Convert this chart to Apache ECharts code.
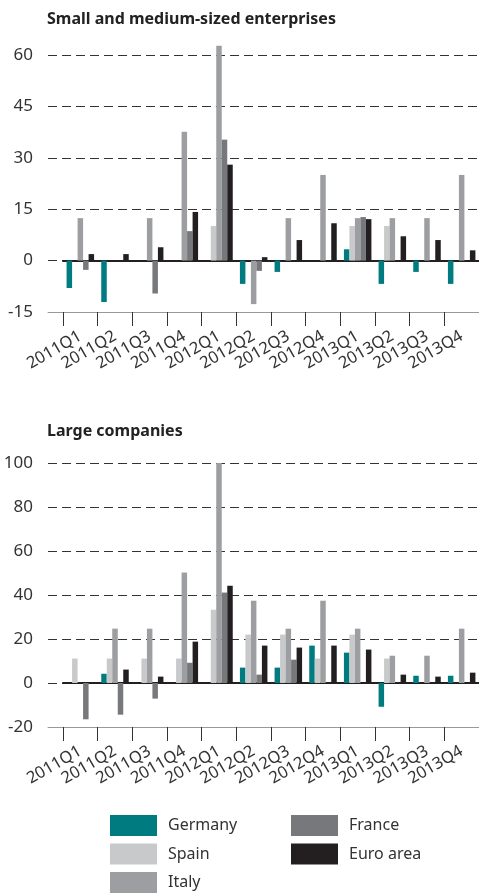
<!DOCTYPE html>
<html>
<head>
<meta charset="utf-8">
<script src="https://cdn.jsdelivr.net/npm/echarts@6/dist/echarts.min.js"></script>
<style>
html,body{margin:0;padding:0;background:#fff;}
#main{width:479px;height:894px;}
</style>
</head>
<body>
<div id="main"></div>
<script>
const quarters=['2011Q1','2011Q2','2011Q3','2011Q4','2012Q1','2012Q2','2012Q3','2012Q4','2013Q1','2013Q2','2013Q3','2013Q4'];

//small and medium-sized enterprises
const smeGermany=[-8, -12.1, 0, 0, 0, -6.8, -3.3, 0, 3.3, -6.8, -3.3, -6.8];
const smeSpain=[0, 0, 0, 0, 10.1, 0, 0, 0, 10.1, 10.1, 0, 0];
const smeItaly=[12.4, 0, 12.4, 37.6, 62.7, -12.7, 12.4, 25, 12.4, 12.4, 12.4, 25];
const smeFrance=[-2.7, 0, -9.6, 8.6, 35.3, -3, 0, 0, 12.7, 0, 0, 0];
const smeEuro=[1.9, 1.9, 3.9, 14.2, 28, 1, 6, 10.9, 12.1, 7.1, 6, 3];

//large companies
const lgGermany=[0, 4.2, 0, 0, 0, 7, 7, 17, 13.8, -10.8, 3.3, 3.3];
const lgSpain=[11.1, 11.1, 11.1, 11.1, 33.3, 22, 22, 11.1, 22, 11.1, 0, 0];
const lgItaly=[0, 24.7, 24.7, 50.2, 100, 37.4, 24.7, 37.4, 24.7, 12.4, 12.4, 24.7];
const lgFrance=[-16.5, -14.4, -7.1, 9.2, 41.1, 3.8, 10.6, 0, 0, 0, 0, 0];
const lgEuro=[0, 6.1, 2.9, 18.8, 44.2, 17, 16.1, 17, 15.2, 3.8, 2.9, 4.7];

const smeTicks={min:-15, max:60, interval:15};
const lgTicks={min:-20, max:100, interval:20};

const names=['Germany','Spain','Italy','France','Euro area'];
const colors=['#007b80','#c8c9cb','#9d9ea1','#77787b','#231f20'];

const fontFam="'Noto Sans', sans-serif";
const txtColor='#333';

const chart=echarts.init(document.getElementById('main'));

// two grids per panel: outer one carries y labels + dashed lines, inner one the bars
const panels=[
    {top:55, bottom:582, ticks:smeTicks, data:[smeGermany,smeSpain,smeItaly,smeFrance,smeEuro]},
    {top:463, bottom:167, ticks:lgTicks, data:[lgGermany,lgSpain,lgItaly,lgFrance,lgEuro]},
];

const grid=[], xAxis=[], yAxis=[], series=[];
panels.forEach((p)=>{
    const gA=grid.length;
    grid.push({left:48, right:0, top:p.top, bottom:p.bottom});
    grid.push({left:63, right:0, top:p.top, bottom:p.bottom});
    const gB=gA+1;

    // outer: bottom line only
    xAxis.push({type:'value', gridIndex:gA, min:0, max:1,
        axisLine:{show:true, onZero:false, lineStyle:{color:'#999', width:1}},
        axisTick:{show:false}, axisLabel:{show:false}, splitLine:{show:false}});
    const xB=xAxis.length;
    // inner: ticks + rotated labels at the bottom
    xAxis.push({type:'category', gridIndex:gB, data:quarters, position:'bottom',
        axisLine:{show:false, onZero:false},
        axisTick:{show:true, length:14, lineStyle:{color:'#333'}},
        axisLabel:{rotate:30, margin:23, fontSize:16.5, color:txtColor, fontFamily:fontFam, interval:0}});
    // zero line
    xAxis.push({type:'category', gridIndex:gB, data:quarters, position:'top',
        axisLine:{show:true, onZero:true, lineStyle:{color:'#231f20', width:2}},
        axisTick:{show:false}, axisLabel:{show:false}});

    yAxis.push({type:'value', gridIndex:gA, min:p.ticks.min, max:p.ticks.max, interval:p.ticks.interval,
        axisLine:{show:false}, axisTick:{show:false},
        axisLabel:{margin:15, fontSize:17, color:txtColor, fontFamily:fontFam},
        splitLine:{show:true, lineStyle:{color:'#333', width:1, type:[9,5]}}});
    const yB=yAxis.length;
    yAxis.push({type:'value', gridIndex:gB, min:p.ticks.min, max:p.ticks.max, interval:p.ticks.interval,
        show:false, splitLine:{show:false}});

    p.data.forEach((vals,i)=>{
        series.push({
            name:names[i], type:'bar', xAxisIndex:xB, yAxisIndex:yB,
            data:vals, barWidth:5.5, barGap:0, clip:false,
            itemStyle:{color:colors[i]}, silent:true, z:3
        });
    });
});

const legendBase={
    orient:'vertical', top:815, itemWidth:47, itemHeight:21, itemGap:7.5, icon:'rect', padding:0,
    selectedMode:false,
    textStyle:{fontSize:16, color:txtColor, fontFamily:fontFam, padding:[0,0,0,6]}
};

chart.setOption({
    animation:false,
    title:[
        {text:'Small and medium-sized enterprises', left:42, top:6,
            textStyle:{fontSize:16, fontWeight:'bold', color:'#222', fontFamily:fontFam}},
        {text:'Large companies', left:42, top:418,
            textStyle:{fontSize:16, fontWeight:'bold', color:'#222', fontFamily:fontFam}},
    ],
    legend:[
        Object.assign({}, legendBase, {left:110, data:['Germany','Spain','Italy']}),
        Object.assign({}, legendBase, {left:291, data:['France','Euro area']}),
    ],
    grid:grid,
    xAxis:xAxis,
    yAxis:yAxis,
    series:series
});
</script>
</body>
</html>
